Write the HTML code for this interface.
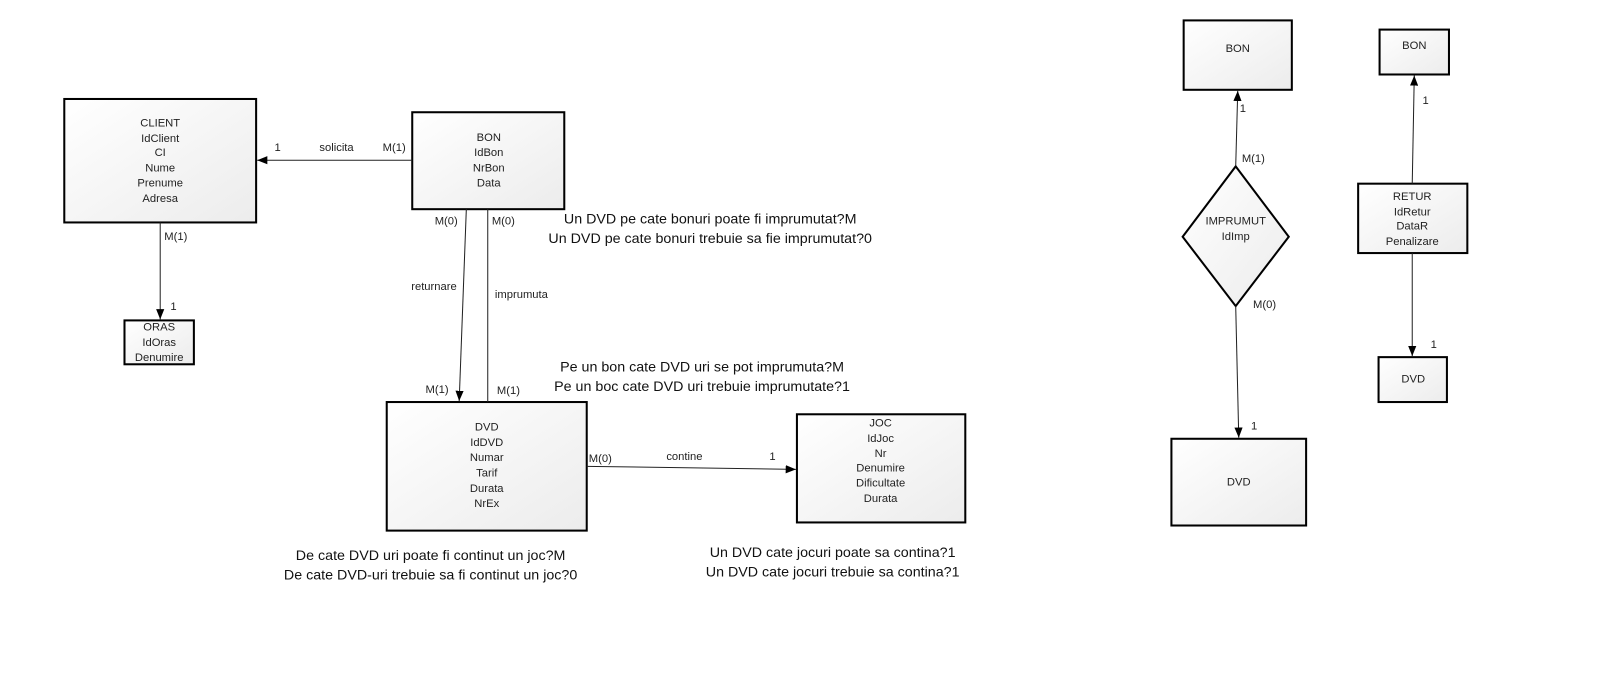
<!DOCTYPE html>
<html><head><meta charset="utf-8"><style>
html,body{margin:0;padding:0;background:#fff;}
svg{display:block;font-family:"Liberation Sans",Arial,sans-serif;}
.s{font-size:11px;fill:#222;}
.q{font-size:14px;fill:#111;}
</style></head><body>
<svg width="1600" height="700" viewBox="0 0 1600 700" xmlns="http://www.w3.org/2000/svg">
<defs>
<linearGradient id="g" x1="0" y1="0" x2="1" y2="1"><stop offset="0" stop-color="#ffffff"/><stop offset="1" stop-color="#ececec"/></linearGradient>
<marker id="a" markerWidth="10" markerHeight="8" refX="10" refY="4" orient="auto" markerUnits="userSpaceOnUse"><path d="M0,0 L10,4 L0,8 z" fill="#000"/></marker>
</defs>
<g transform="scale(1.0204)">
<g stroke="#000" stroke-width="2" fill="url(#g)">
<rect x="63" y="97" width="188" height="121"/>
<rect x="404" y="110" width="149" height="95"/>
<rect x="122" y="314" width="68" height="43"/>
<rect x="379" y="394" width="196" height="126"/>
<rect x="781" y="406" width="165" height="106"/>
<rect x="1160" y="20" width="106" height="68"/>
<polygon points="1211,163 1263,232 1211,300 1159,232"/>
<rect x="1148" y="430" width="132" height="85"/>
<rect x="1352" y="29" width="68" height="44"/>
<rect x="1331" y="180" width="107" height="68"/>
<rect x="1351" y="350" width="67" height="44"/>
</g>
<g stroke="#222" stroke-width="1" fill="none">
<line x1="404" y1="157" x2="252" y2="157" marker-end="url(#a)"/>
<line x1="157" y1="218" x2="157" y2="313" marker-end="url(#a)"/>
<line x1="457" y1="205" x2="450" y2="393" marker-end="url(#a)"/>
<line x1="478" y1="205" x2="478" y2="394"/>
<line x1="575" y1="457" x2="780" y2="460" marker-end="url(#a)"/>
<line x1="1211" y1="163" x2="1213" y2="89" marker-end="url(#a)"/>
<line x1="1211" y1="300" x2="1214" y2="429" marker-end="url(#a)"/>
<line x1="1384" y1="180" x2="1386" y2="74" marker-end="url(#a)"/>
<line x1="1384" y1="248" x2="1384" y2="349" marker-end="url(#a)"/>
</g>
<g class="s" text-anchor="middle">
<text x="157" y="124">CLIENT</text><text x="157" y="139">IdClient</text><text x="157" y="153">CI</text><text x="157" y="168">Nume</text><text x="157" y="183">Prenume</text><text x="157" y="198">Adresa</text>
<text x="479" y="138">BON</text><text x="479" y="153">IdBon</text><text x="479" y="168">NrBon</text><text x="479" y="183">Data</text>
<text x="156" y="324">ORAS</text><text x="156" y="339">IdOras</text><text x="156" y="354">Denumire</text>
<text x="477" y="422">DVD</text><text x="477" y="437">IdDVD</text><text x="477" y="452">Numar</text><text x="477" y="467">Tarif</text><text x="477" y="482">Durata</text><text x="477" y="497">NrEx</text>
<text x="863" y="418">JOC</text><text x="863" y="433">IdJoc</text><text x="863" y="448">Nr</text><text x="863" y="462">Denumire</text><text x="863" y="477">Dificultate</text><text x="863" y="492">Durata</text>
<text x="1213" y="51">BON</text>
<text x="1211" y="220">IMPRUMUT</text><text x="1211" y="235">IdImp</text>
<text x="1214" y="476">DVD</text>
<text x="1386" y="48">BON</text>
<text x="1384" y="196">RETUR</text><text x="1384" y="211">IdRetur</text><text x="1384" y="225">DataR</text><text x="1384" y="240">Penalizare</text>
<text x="1385" y="375">DVD</text>
</g>
<g class="s">
<text x="269" y="148">1</text><text x="313" y="148">solicita</text><text x="375" y="148">M(1)</text>
<text x="161" y="235">M(1)</text><text x="167" y="304">1</text>
<text x="426" y="220">M(0)</text><text x="482" y="220">M(0)</text>
<text x="403" y="284">returnare</text><text x="485" y="292">imprumuta</text>
<text x="417" y="385">M(1)</text><text x="487" y="386">M(1)</text>
<text x="577" y="453">M(0)</text><text x="653" y="451">contine</text><text x="754" y="451">1</text>
<text x="1215" y="110">1</text><text x="1217" y="159">M(1)</text><text x="1228" y="302">M(0)</text><text x="1226" y="421">1</text>
<text x="1394" y="102">1</text><text x="1402" y="341">1</text>
</g>
<g class="q" text-anchor="middle">
<text x="696" y="219">Un DVD pe cate bonuri poate fi imprumutat?M</text>
<text x="696" y="238">Un DVD pe cate bonuri trebuie sa fie imprumutat?0</text>
<text x="688" y="364">Pe un bon cate DVD uri se pot imprumuta?M</text>
<text x="688" y="383">Pe un boc cate DVD uri trebuie imprumutate?1</text>
<text x="422" y="549">De cate DVD uri poate fi continut un joc?M</text>
<text x="422" y="568">De cate DVD-uri trebuie sa fi continut un joc?0</text>
<text x="816" y="546">Un  DVD cate jocuri poate sa contina?1</text>
<text x="816" y="565">Un DVD cate jocuri trebuie sa contina?1</text>
</g>
</g>
</svg>
</body></html>
